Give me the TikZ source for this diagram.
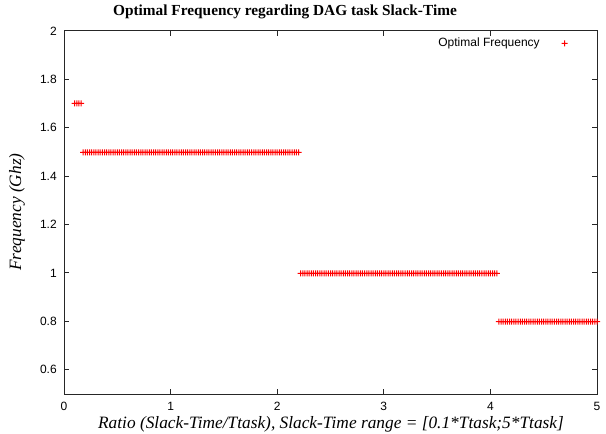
\documentclass[tikz,border=0pt]{standalone}
\usepackage{fontspec}
\setmainfont{Liberation Serif}
\setsansfont{Liberation Sans}

\begin{document}
\begin{tikzpicture}[x=0.75pt, y=-0.75pt,
    frame/.style={draw=black!85, line width=0.75pt},
    ticklabel/.style={font=\sffamily\fontsize{9}{10}\selectfont, inner sep=0pt},
    axislabel/.style={font=\itshape\fontsize{13}{15}\selectfont, inner sep=0pt},
    freqmark/.style={fill=red, draw=none}]
    \useasboundingbox (0,0) rectangle (606,434);

    \node (Title) [font=\bfseries\fontsize{11.5}{14}\selectfont, inner sep=0pt] at (285,12) {Optimal Frequency regarding DAG task Slack-Time};
    \node (YLabel) [axislabel, rotate=90] at (17,212) {Frequency (Ghz)};
    \node (XLabel) [axislabel] at (331,424) {Ratio (Slack-Time/Ttask), Slack-Time range = [0.1*Ttask;5*Ttask]};

    % legend
    \node (Legend) [ticklabel, anchor=east] at (540,43) {Optimal Frequency};
    \coordinate (LegendMark) at (564.5,43.5);
    \path[freqmark] (LegendMark) +(-3,-0.5) rectangle +(3,0.5) +(-0.5,-3) rectangle +(0.5,3);

    % axes: x in ratio, y in Ghz
    \begin{scope}[shift={(64,515)}, x=79.95pt, y=181.5pt]
        \draw[frame] (0,0.5) rectangle (5,2);
        \foreach \t in {0,...,5} {
            \draw[frame] (\t,0.5) -- ++(0,3.75pt);
            \draw[frame] (\t,2) -- ++(0,-3.75pt);
            \node (XTick\t) [ticklabel, anchor=north] at ([yshift=-6pt]\t,0.5) {\t};
        }
        \foreach \v/\l in {0.6/0.6, 0.8/0.8, 1/1, 1.2/1.2, 1.4/1.4, 1.6/1.6, 1.8/1.8, 2/2} {
            \draw[frame] (0,\v) -- ++(3.75pt,0);
            \draw[frame] (5,\v) -- ++(-3.75pt,0);
            \node (YTick\l) [ticklabel, anchor=east] at ([xshift=-5.25pt]0,\v) {\l};
        }
    \end{scope}

    % optimal frequency samples, step 0.02
    \foreach \a/\b/\yy in {5/8/103.5, 9/110/152.5, 111/203/273.5, 204/250/321.5}
        \foreach \i in {\a,...,\b} {
            \pgfmathsetmacro\xx{64+\i*2.132}
            \path[freqmark] (\xx,\yy) +(-3,-0.5) rectangle +(3,0.5) +(-0.5,-3) rectangle +(0.5,3);
        }
\end{tikzpicture}
\end{document}
